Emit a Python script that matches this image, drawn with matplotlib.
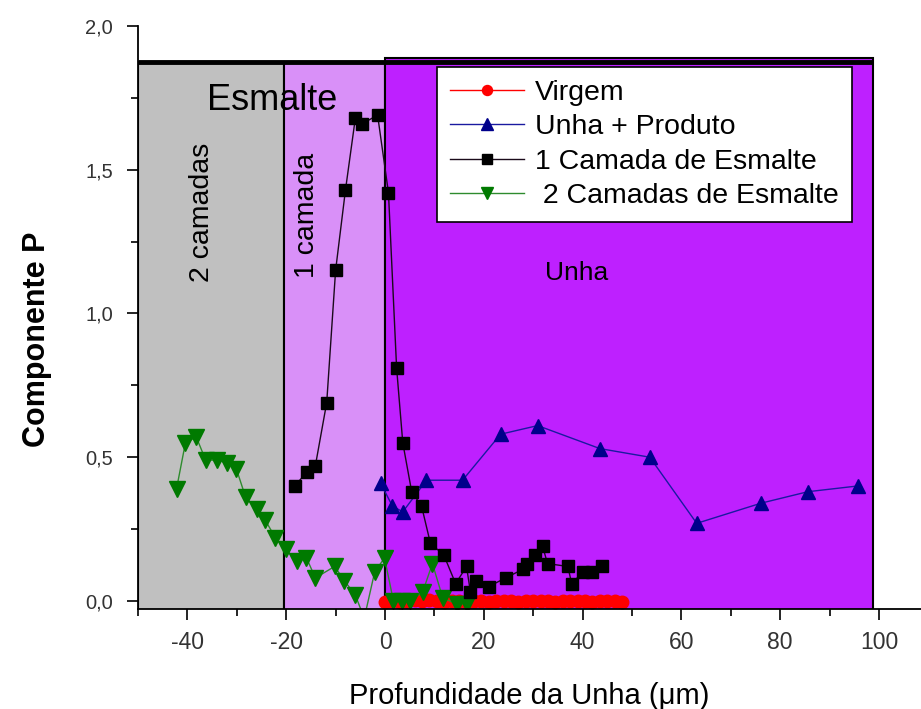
import matplotlib
matplotlib.use("Agg")
import matplotlib.pyplot as plt
from matplotlib.patches import Rectangle
from matplotlib.ticker import MultipleLocator

plt.rcParams['font.family'] = ['Liberation Sans', 'DejaVu Sans']

# ---- data ----
virgem_x = [0.0, 1.5, 3.0, 4.5, 6.0, 7.5, 9.0, 10.5, 12.0, 13.5, 15.0, 16.5, 18.0,
            19.5, 21.0, 22.5, 24.0, 25.5, 27.0, 28.5, 30.0, 31.5, 33.0, 34.5, 36.0,
            37.5, 39.0, 40.5, 42.0, 43.5, 45.0, 46.5, 48.0]
virgem_y = [-0.005, 0.0, -0.003, 0.0, 0.002, 0.0, 0.004, 0.0, -0.002, 0.0, 0.0, -0.003,
            0.0, 0.0, -0.002, 0.0, 0.0, 0.0, -0.002, 0.0, 0.0, 0.0, 0.0, -0.002, 0.0,
            0.0, 0.0, 0.0, -0.002, 0.0, 0.0, 0.0, -0.002]

produto_x = [-0.9, 1.5, 3.6, 8.4, 15.7, 23.4, 30.9, 43.5, 53.6, 63.1, 76.1, 85.6, 95.7]
produto_y = [0.41, 0.33, 0.31, 0.42, 0.42, 0.58, 0.61, 0.53, 0.50, 0.27, 0.34, 0.38, 0.40]

camada1_x = [-18.3, -15.7, -14.1, -11.8, -10.0, -8.0, -6.0, -4.6, -1.5, 0.7, 2.35, 3.6,
             5.4, 7.4, 9.2, 11.9, 14.3, 16.5, 17.3, 18.4, 21.0, 24.4, 27.9, 28.7, 30.3,
             31.9, 32.9, 37.0, 37.8, 40.0, 41.9, 43.9]
camada1_y = [0.40, 0.45, 0.47, 0.69, 1.15, 1.43, 1.68, 1.66, 1.69, 1.42, 0.81, 0.55,
             0.38, 0.33, 0.20, 0.16, 0.06, 0.12, 0.03, 0.07, 0.05, 0.08, 0.11, 0.13, 0.16,
             0.19, 0.13, 0.12, 0.06, 0.10, 0.10, 0.12]

camada2_x = [-42.2, -40.4, -38.2, -36.3, -34.1, -31.9, -30.1, -28.2, -26.0, -24.2, -22.2,
             -20.1, -17.9, -15.9, -14.1, -10.2, -8.2, -6.0, -4.2, -2.1, -0.1, 1.7, 3.5,
             5.0, 7.6, 9.6, 11.7, 14.5, 16.5]
camada2_y = [0.39, 0.55, 0.57, 0.49, 0.49, 0.48, 0.46, 0.36, 0.32, 0.28, 0.22, 0.18, 0.14,
             0.15, 0.08, 0.12, 0.07, 0.02, -0.06, 0.10, 0.15, 0.00, 0.00, 0.00, 0.03, 0.13,
             0.01, -0.01, -0.01]

labels = ['Virgem', 'Unha + Produto', '1 Camada de Esmalte', ' 2 Camadas de Esmalte']

x_ticks = [-40, -20, 0, 20, 40, 60, 80, 100]
x_tick_labels = ['-40', '-20', '0', '20', '40', '60', '80', '100']
y_ticks = [0.0, 0.5, 1.0, 1.5, 2.0]
y_tick_labels = ['0,0', '0,5', '1,0', '1,5', '2,0']

# regions (x from, x to, colour)
regions = [(-50, -20.5, '#C0C0C0'), (-20.5, 0.0, '#D990F8'), (0.0, 98.8, '#BE20FF')]
region_top = 1.875

# ---- figure ----
fig = plt.figure(figsize=(9.21, 7.09), dpi=100)
ax = fig.add_axes([138 / 921, 1 - 609 / 709, (921 - 138) / 921, 583 / 709])
ax.set_xlim(-50, 108.5)
ax.set_ylim(-0.028, 2.0)

for i, (x0, x1, c) in enumerate(regions):
    top = region_top if i < 2 else 1.89
    ax.add_patch(Rectangle((x0, -0.05), x1 - x0, top + 0.05, facecolor=c,
                           edgecolor='black', linewidth=1.5, zorder=0.5))
ax.plot([-50, 98.8], [region_top, region_top], color='black', lw=3.5,
        solid_capstyle='butt', zorder=0.6)

ax.plot(virgem_x, virgem_y, color='#FF0000', lw=1, marker='o', ms=9,
        markeredgecolor='#FF0000', label=labels[0], zorder=3)
ax.plot(produto_x, produto_y, color='#1A1AA0', lw=1, marker='^', ms=10.5,
        markerfacecolor='#00008B', markeredgecolor='#00008B', label=labels[1], zorder=3)
ax.plot(camada1_x, camada1_y, color='#1A0A1A', lw=1, marker='s', ms=9,
        markerfacecolor='black', markeredgecolor='black', label=labels[2], zorder=4)
ax.plot(camada2_x, camada2_y, color='#2E8B2E', lw=1, marker='v', ms=11,
        markerfacecolor='#007A00', markeredgecolor='#007A00', label=labels[3], zorder=3)

ax.text(-22.8, 1.74, 'Esmalte', fontsize=26, ha='center', va='center', zorder=5)
ax.text(-37.0, 1.35, '2 camadas', fontsize=20.5, rotation=90, ha='center', va='center', zorder=5)
ax.text(-15.7, 1.34, '1 camada', fontsize=20.5, rotation=90, ha='center', va='center', zorder=5)
ax.text(38.8, 1.14, 'Unha', fontsize=19, ha='center', va='center', zorder=5)

leg = ax.legend(loc='upper left', bbox_to_anchor=((437 - 138) / 783, 1 - (67 - 26) / 583),
                fontsize=20.5, frameon=True, fancybox=False, edgecolor='black',
                framealpha=1, handlelength=2.6, handletextpad=0.4, labelspacing=0.3,
                borderpad=0.45, borderaxespad=0, markerscale=0.8)
leg.get_frame().set_linewidth(1.2)
leg.set_zorder(6)

for s in ['top', 'right']:
    ax.spines[s].set_visible(False)
for s in ['left', 'bottom']:
    ax.spines[s].set_linewidth(1.3)
    ax.spines[s].set_zorder(7)

ax.set_xticks(x_ticks)
ax.set_xticklabels(x_tick_labels)
ax.set_yticks(y_ticks)
ax.set_yticklabels(y_tick_labels)
ax.xaxis.set_minor_locator(MultipleLocator(10))
ax.yaxis.set_minor_locator(MultipleLocator(0.25))
ax.tick_params(axis='x', which='major', direction='out', length=8, width=1.2,
               labelsize=16.5, labelcolor='#333333', pad=8)
ax.tick_params(axis='y', which='major', direction='out', length=8, width=1.2,
               labelsize=14.5, labelcolor='#333333', pad=10)
ax.tick_params(which='minor', direction='out', length=5, width=1.2)

ax.set_xlabel('Profundidade da Unha (\u03bcm)', fontsize=21, labelpad=20)
ax.set_ylabel('Componente P', fontsize=22, fontweight='bold')
ax.yaxis.set_label_coords(-0.11, 0.463)

fig.savefig('out.png', dpi=100)
